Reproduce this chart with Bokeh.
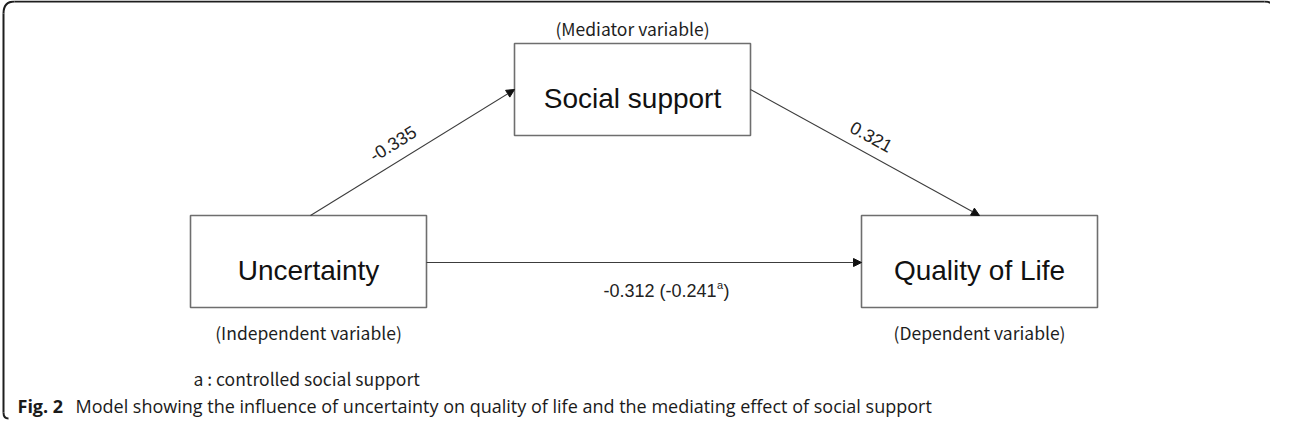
import math
from bokeh.plotting import figure
from bokeh.models import Range1d, Arrow, NormalHead, ColumnDataSource, Label
from bokeh.core.properties import value
from bokeh.embed import file_html
from bokeh.resources import INLINE

# ---- content ----
node_names = ["Uncertainty", "Social support", "Quality of Life"]
node_roles = ["(Independent variable)", "(Mediator variable)", "(Dependent variable)"]
path_a = "-0.335"          # Uncertainty -> Social support
path_b = "0.321"           # Social support -> Quality of Life
path_c = "-0.312"          # total effect
path_c_ctrl = "-0.241"     # controlled for social support
footnote = "a : controlled social support"
caption_bold = "Fig. 2"
caption_text = "Model showing the influence of uncertainty on quality of life and the mediating effect of social support"

# ---- layout (pixel space of the picture) ----
cx = [316, 640, 987]
cy = [269, 97, 269]
BW, BH = 236, 92

W, H = 1270, 420
p = figure(width=W, height=H, x_range=Range1d(8, 8 + W), y_range=Range1d(8 + H, 8),
           output_backend="svg", toolbar_location=None, min_border=0)
p.axis.visible = False
p.grid.visible = False
p.outline_line_color = None
p.background_fill_color = "white"
p.border_fill_color = "white"

# frame (rounded, open on the right and bottom)
fc = "#1e1e1e"
p.line([22, 1272], [9, 9], line_color=fc, line_width=2)
p.line([11, 11], [21, 420], line_color=fc, line_width=2)
p.quadratic(x0=[11, 1272, 11], y0=[21, 9, 420], x1=[22, 1282, 16], y1=[9, 17, 426],
            cx=[11, 1281, 11], cy=[9, 9, 426], line_color=fc, line_width=2)

# boxes
role_base = [cy[0] + BH / 2 + 25, cy[1] - BH / 2 - 15, cy[2] + BH / 2 + 25]
src = ColumnDataSource(dict(x=cx, y=cy, ty=[c + 9 for c in cy], name=node_names,
                            role=node_roles, ry=role_base))
p.rect(x="x", y="y", width=BW, height=BH, source=src, fill_color="white",
       line_color="#6e6e6e", line_width=1.6)
p.text(x="x", y="ty", text="name", source=src, text_align="center", text_baseline="alphabetic",
       text_font=value("Liberation Sans"), text_font_size="28px", text_color="#111111")
p.text(x="x", y="ry", text="role", source=src, text_align="center", text_baseline="alphabetic",
       text_font=value("Noto Sans CJK KR"), text_font_size="17.5px", text_color="#1e1e1e")

# arrows
lc = "#3c3c3c"
def arrow(x0, y0, x1, y1):
    p.add_layout(Arrow(end=NormalHead(size=8, fill_color="#111111", line_color="#111111", line_width=1),
                       x_start=x0, y_start=y0, x_end=x1, y_end=y1,
                       line_color=lc, line_width=1.1))

a0 = (cx[0] + 2, cy[0] - BH / 2); a1 = (cx[1] - BW / 2, cy[1])
b0 = (cx[1] + BW / 2, cy[1]); b1 = (cx[2], cy[2] - BH / 2)
c0 = (cx[0] + BW / 2, cy[0] + 1); c1 = (cx[2] - BW / 2, cy[2] + 1)
arrow(*a0, *a1)
arrow(*b0, *b1)
arrow(*c0, *c1)

def ang(s, e):
    return math.atan2(s[1] - e[1], e[0] - s[0])

def label_pos(s, e, off, shift):
    dx, dy = e[0] - s[0], e[1] - s[1]
    L = math.hypot(dx, dy)
    ux, uy = dx / L, dy / L
    nx, ny = uy, -ux
    if ny > 0:
        nx, ny = -nx, -ny
    mx, my = (s[0] + e[0]) / 2, (s[1] + e[1]) / 2
    return mx + nx * off + ux * shift, my + ny * off + uy * shift

lab_font = value("Liberation Sans")
pa = label_pos(a0, a1, 18, -12)
p.text(x=[pa[0]], y=[pa[1]], text=[path_a], angle=ang(a0, a1), text_align="center",
       text_baseline="middle", text_font=lab_font, text_font_size="18px", text_color="#222222")
pb = label_pos(b0, b1, 17, -2)
p.text(x=[pb[0]], y=[pb[1]], text=[path_b], angle=ang(b0, b1), text_align="center",
       text_baseline="middle", text_font=lab_font, text_font_size="18px", text_color="#222222")

# path c label with superscript
xc = c1[0] - 145
yc = c0[1] + 28
p.text(x=[xc], y=[yc], text=[f"{path_c} ({path_c_ctrl}"], text_align="right", text_baseline="alphabetic",
       text_font=lab_font, text_font_size="18px", text_color="#222222")
p.text(x=[xc + 0.5], y=[yc - 6], text=["a"], text_align="left", text_baseline="alphabetic",
       text_font=lab_font, text_font_size="11px", text_color="#222222")
p.text(x=[xc + 7], y=[yc], text=[")"], text_align="left", text_baseline="alphabetic",
       text_font=lab_font, text_font_size="18px", text_color="#222222")

# footnote and caption as annotations (not clipped to the frame)
p.add_layout(Label(x=cx[0] - BW / 2 + 3, y=386, text=footnote, text_align="left",
                   text_baseline="alphabetic", text_font="Noto Sans CJK KR",
                   text_font_size="17.5px", text_color="#1e1e1e"))
p.add_layout(Label(x=25, y=413, text=caption_bold, text_align="left", text_baseline="alphabetic",
                   text_font="Open Sans", text_font_size="18px", text_font_style="bold",
                   text_color="#1a1a1a"))
p.add_layout(Label(x=83, y=413, text=caption_text, text_align="left", text_baseline="alphabetic",
                   text_font="Open Sans", text_font_size="18px", text_color="#1a1a1a"))

open("out.html", "w").write(file_html(p, INLINE))
